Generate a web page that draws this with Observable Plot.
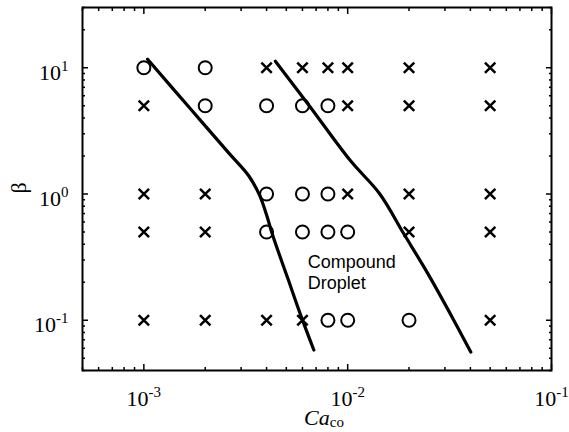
<!DOCTYPE html>
<html><head><meta charset="utf-8">
<script src="https://cdn.jsdelivr.net/npm/d3@7"></script>
<script src="https://cdn.jsdelivr.net/npm/@observablehq/plot@0.6"></script>
<style>
html,body{margin:0;padding:0;background:#fff;}
#chart{width:569px;height:432px;}
</style>
</head><body><div id="chart"></div>
<script>
// Capillary numbers (x) and viscosity ratios (y) of the experiments
const caValues = [0.001, 0.002, 0.004, 0.006, 0.008, 0.01, 0.02, 0.05];
const betaValues = [10, 5, 1, 0.5, 0.1];
// O = compound droplet, X = no compound droplet
const regimeRows = [
  ["O","O","X","X","X","X","X","X"],
  ["X","O","O","O","O","X","X","X"],
  ["X","X","O","O","O","X","X","X"],
  ["X","X","O","O","O","O","X","X"],
  ["X","X","X","X","O","O","O","X"]
];
// Regime boundaries
const leftCa   = [0.001043, 0.001696, 0.002607, 0.003269, 0.003703, 0.004008, 0.004290, 0.005083, 0.005955, 0.006823];
const leftBeta = [11.67, 4.708, 2.117, 1.394, 0.9696, 0.6745, 0.469, 0.2148, 0.1039, 0.0581];
const rightCa   = [0.004418, 0.006494, 0.01033, 0.01435, 0.01882, 0.02470, 0.03315, 0.04018];
const rightBeta = [11.25, 4.98, 1.830, 1.0055, 0.4862, 0.2351, 0.1002, 0.0560];
// Ticks
const xMajor = [0.001, 0.01, 0.1];
const yMajor = [0.1, 1, 10];
const xMinor = [0.0005,0.0006,0.0007,0.0008,0.0009,0.002,0.003,0.004,0.005,0.006,0.007,0.008,0.009,0.02,0.03,0.04,0.05,0.06,0.07,0.08,0.09];
const yMinor = [0.04,0.05,0.06,0.07,0.08,0.09,0.2,0.3,0.4,0.5,0.6,0.7,0.8,0.9,2,3,4,5,6,7,8,9,20,30];
const annotation = [{ca: 0.00637, beta: 0.34, label: "Compound\nDroplet"}];

const points = [];
betaValues.forEach((b, i) => caValues.forEach((c, j) => points.push({ca: c, beta: b, kind: regimeRows[i][j]})));
const leftLine = leftCa.map((c, i) => ({ca: c, beta: leftBeta[i]}));
const rightLine = rightCa.map((c, i) => ({ca: c, beta: rightBeta[i]}));

const serif = "'Liberation Serif', 'Times New Roman', serif";
const expFmt = d => String(Math.round(Math.log10(d)));

const svg = Plot.plot({
  width: 569,
  height: 432,
  marginLeft: 82,
  marginRight: 18,
  marginTop: 7,
  marginBottom: 62,
  style: {background: "white", color: "black", fontFamily: serif, overflow: "visible"},
  x: {type: "log", domain: [0.0005, 0.1]},
  y: {type: "log", domain: [0.04, 30]},
  marks: [
    Plot.line(leftLine, {x: "ca", y: "beta", stroke: "black", strokeWidth: 3.2, curve: "catmull-rom"}),
    Plot.line(rightLine, {x: "ca", y: "beta", stroke: "black", strokeWidth: 3.2, curve: "catmull-rom"}),
    Plot.dot(points.filter(d => d.kind === "O"), {x: "ca", y: "beta", r: 6.5, stroke: "black", strokeWidth: 2, fill: "none"}),
    Plot.dot(points.filter(d => d.kind === "X"), {x: "ca", y: "beta", symbol: "times", r: 4.8, stroke: "black", strokeWidth: 2.5, fill: "none"}),
    Plot.text(annotation, {x: "ca", y: "beta", text: "label", textAnchor: "start", lineAnchor: "top", lineHeight: 1.17, fontSize: 18, fontFamily: "'Liberation Sans', Arial, sans-serif", fill: "black"}),
    // inward ticks, all four sides
    Plot.axisX(xMajor, {anchor: "bottom", tickSize: -6, strokeWidth: 1.5, fill: "none", label: null}),
    Plot.axisX(xMajor, {anchor: "top", tickSize: -6, strokeWidth: 1.5, fill: "none", label: null}),
    Plot.axisX(xMinor, {anchor: "bottom", tickSize: -3, strokeWidth: 1.5, fill: "none", label: null}),
    Plot.axisX(xMinor, {anchor: "top", tickSize: -3, strokeWidth: 1.5, fill: "none", label: null}),
    Plot.axisY(yMajor, {anchor: "left", tickSize: -6, strokeWidth: 1.5, fill: "none", label: null}),
    Plot.axisY(yMajor, {anchor: "right", tickSize: -6, strokeWidth: 1.5, fill: "none", label: null}),
    Plot.axisY(yMinor, {anchor: "left", tickSize: -3, strokeWidth: 1.5, fill: "none", label: null}),
    Plot.axisY(yMinor, {anchor: "right", tickSize: -3, strokeWidth: 1.5, fill: "none", label: null}),
    // tick labels
    Plot.axisX(xMajor, {anchor: "bottom", tickSize: 0, tickPadding: 20, tickFormat: expFmt, fontSize: 22, fontFamily: serif, label: null}),
    Plot.axisY(yMajor, {anchor: "left", tickSize: 0, tickPadding: 14, dy: 5, tickFormat: expFmt, fontSize: 22, fontFamily: serif, label: null}),
    Plot.frame({stroke: "black", strokeWidth: 2})
  ]
});
document.getElementById("chart").append(svg);

// superscript exponents
d3.select(svg).selectAll('g[aria-label="x-axis tick label"] text, g[aria-label="y-axis tick label"] text').each(function() {
  const t = d3.select(this);
  const e = t.text();
  t.text(null);
  t.append("tspan").text("10");
  t.append("tspan").attr("dy", -9).attr("font-size", 15).text(e);
});

// axis titles
const s = d3.select(svg);
const xl = s.append("text").attr("x", 324).attr("y", 425).attr("text-anchor", "middle")
  .attr("font-family", serif).attr("font-size", 22).attr("fill", "black");
xl.append("tspan").attr("font-style", "italic").text("Ca");
xl.append("tspan").attr("font-size", 15).attr("dy", 2).text("co");
s.append("text").attr("transform", "translate(26,188) rotate(-90)").attr("text-anchor", "middle")
  .attr("font-family", serif).attr("font-size", 22).attr("fill", "black").text("β");
</script>
</body></html>
